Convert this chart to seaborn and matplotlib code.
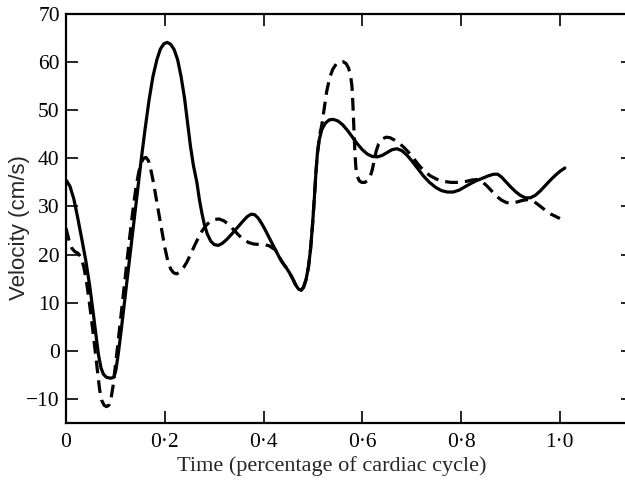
import numpy as np
import pandas as pd
import matplotlib
matplotlib.use("Agg")
import matplotlib.pyplot as plt
import seaborn as sns

# Solid curve (time as fraction of cardiac cycle, velocity cm/s)
solid_t = [0.000, 0.008, 0.016, 0.024, 0.032, 0.040, 0.048, 0.055, 0.061, 0.066,
           0.071, 0.076, 0.082, 0.090, 0.097, 0.101, 0.106, 0.112, 0.120, 0.128,
           0.136, 0.144, 0.152, 0.160, 0.168, 0.176, 0.184, 0.191, 0.198, 0.205,
           0.212, 0.219, 0.226, 0.233, 0.240, 0.246, 0.252, 0.258, 0.265, 0.270,
           0.275, 0.280, 0.286, 0.293, 0.300, 0.308, 0.316, 0.325, 0.335, 0.346,
           0.357, 0.367, 0.375, 0.382, 0.389, 0.396, 0.403, 0.410, 0.417, 0.424,
           0.431, 0.438, 0.445, 0.452, 0.459, 0.465, 0.471, 0.476, 0.481, 0.486,
           0.491, 0.495, 0.499, 0.503, 0.506, 0.509, 0.513, 0.518, 0.525, 0.533,
           0.541, 0.550, 0.560, 0.570, 0.580, 0.590, 0.600, 0.610, 0.620, 0.630,
           0.640, 0.650, 0.660, 0.670, 0.680, 0.690, 0.700, 0.712, 0.724, 0.736,
           0.748, 0.760, 0.772, 0.784, 0.796, 0.808, 0.820, 0.832, 0.844, 0.856,
           0.866, 0.874, 0.882, 0.890, 0.900, 0.910, 0.920, 0.930, 0.940, 0.950,
           0.960, 0.970, 0.980, 0.990, 1.000, 1.010]
solid_v = [35.5, 34.2, 31.5, 27.5, 23.2, 18.8, 13.5, 8.0, 3.0, -1.0,
           -3.6, -4.9, -5.5, -5.7, -5.5, -4.0, -0.5, 4.5, 11.5, 18.5,
           25.5, 32.5, 39.5, 46.0, 52.0, 57.0, 60.5, 62.7, 63.8, 64.1,
           63.7, 62.6, 60.5, 57.0, 52.5, 47.5, 42.5, 38.5, 35.0, 31.5,
           28.7, 26.3, 24.3, 22.8, 22.1, 21.9, 22.3, 23.1, 24.2, 25.5,
           26.8, 27.9, 28.4, 28.3, 27.6, 26.5, 25.2, 23.8, 22.4, 21.0,
           19.6, 18.4, 17.4, 16.3, 15.0, 13.7, 12.8, 12.6, 13.2, 14.8,
           17.5, 21.0, 26.0, 32.0, 37.0, 41.0, 44.0, 46.0, 47.3, 48.0,
           48.1, 47.8, 47.0, 45.8, 44.4, 43.0, 41.8, 40.9, 40.4, 40.3,
           40.6, 41.2, 41.8, 42.0, 41.6, 40.7, 39.5, 37.9, 36.3, 35.0,
           34.0, 33.3, 33.0, 33.0, 33.4, 34.1, 34.8, 35.4, 35.9, 36.4,
           36.7, 36.7, 36.1, 35.2, 34.1, 33.1, 32.3, 31.8, 31.8, 32.3,
           33.2, 34.3, 35.4, 36.4, 37.3, 38.0]

# Dashed curve
dashed_t = [0.000, 0.006, 0.012, 0.018, 0.024, 0.030, 0.036, 0.042, 0.048, 0.054,
            0.059, 0.064, 0.068, 0.072, 0.077, 0.082, 0.087, 0.091, 0.095, 0.099,
            0.104, 0.110, 0.118, 0.126, 0.134, 0.141, 0.147, 0.152, 0.157, 0.162,
            0.167, 0.172, 0.177, 0.182, 0.188, 0.194, 0.200, 0.206, 0.212, 0.218,
            0.224, 0.231, 0.238, 0.245, 0.252, 0.260, 0.268, 0.276, 0.284, 0.292,
            0.300, 0.310, 0.320, 0.330, 0.340, 0.350, 0.360, 0.370, 0.380, 0.392,
            0.404, 0.412, 0.419, 0.424, 0.431, 0.438, 0.445, 0.452, 0.459, 0.465,
            0.471, 0.476, 0.481, 0.486, 0.491, 0.495, 0.499, 0.503, 0.506, 0.509,
            0.513, 0.518, 0.523, 0.528, 0.534, 0.540, 0.547, 0.554, 0.561, 0.567,
            0.572, 0.576, 0.579, 0.581, 0.583, 0.585, 0.587, 0.590, 0.594, 0.599,
            0.605, 0.611, 0.616, 0.620, 0.624, 0.628, 0.633, 0.640, 0.648, 0.656,
            0.665, 0.675, 0.685, 0.695, 0.705, 0.715, 0.725, 0.737, 0.750, 0.765,
            0.780, 0.795, 0.810, 0.822, 0.832, 0.842, 0.852, 0.862, 0.872, 0.882,
            0.892, 0.902, 0.912, 0.922, 0.932, 0.942, 0.952, 0.962, 0.972, 0.982,
            0.992, 1.000]
dashed_v = [25.5, 23.0, 21.3, 20.6, 20.3, 19.5, 17.5, 14.0, 9.5, 4.5,
            0.0, -4.5, -8.0, -10.2, -11.3, -11.6, -11.3, -10.0, -7.5, -4.0,
            0.5, 6.0, 13.5, 21.0, 28.0, 33.5, 37.0, 39.0, 40.0, 40.2,
            39.5, 37.5, 35.0, 32.0, 28.5, 25.0, 21.5, 18.7, 17.0, 16.2,
            16.0, 16.4, 17.3, 18.5, 20.0, 21.8, 23.5, 25.0, 26.1, 26.9,
            27.3, 27.4, 27.0, 26.2, 25.1, 24.0, 23.1, 22.5, 22.2, 22.1,
            22.0, 21.8, 21.3, 21.0, 19.6, 18.4, 17.4, 16.3, 15.0, 13.7,
            12.8, 12.6, 13.2, 14.8, 17.5, 21.0, 26.0, 32.0, 37.0, 41.0,
            44.5, 47.0, 50.5, 54.0, 56.8, 58.5, 59.6, 60.1, 60.1, 59.7,
            58.8, 57.3, 55.0, 51.0, 46.0, 41.0, 38.0, 36.2, 35.3, 35.0,
            35.0, 35.4, 36.2, 37.6, 39.6, 41.5, 43.0, 44.0, 44.4, 44.3,
            43.8, 43.1, 42.2, 41.1, 39.8, 38.5, 37.4, 36.4, 35.7, 35.2,
            35.0, 35.0, 35.2, 35.5, 35.6, 35.2, 34.3, 33.2, 32.1, 31.3,
            30.8, 30.7, 30.9, 31.2, 31.4, 31.3, 30.7, 29.9, 29.1, 28.4,
            27.9, 27.5]

x_ticks = [0.0, 0.2, 0.4, 0.6, 0.8, 1.0]
x_tick_labels = ["0", "0·2", "0·4", "0·6", "0·8", "1·0"]
y_ticks = [-10, 0, 10, 20, 30, 40, 50, 60, 70]
y_tick_labels = ["−10", "0", "10", "20", "30", "40", "50", "60", "70"]

df = pd.concat([
    pd.DataFrame({"t": solid_t, "v": solid_v, "series": "solid"}),
    pd.DataFrame({"t": dashed_t, "v": dashed_v, "series": "dashed"}),
], ignore_index=True)

sns.set_theme(style="ticks")
plt.rcParams["font.family"] = ["Liberation Serif", "DejaVu Serif"]

fig = plt.figure(figsize=(6.25, 4.82), dpi=100)
W = 633 - 66
H = 423 - 14
ax = fig.add_axes([66 / 625, 1 - 423 / 482, W / 625, H / 482])

sns.lineplot(data=df, x="t", y="v", hue="series", style="series",
             palette={"solid": "black", "dashed": "black"},
             dashes={"solid": "", "dashed": (4, 2.2)},
             estimator=None, sort=False, linewidth=2.3, legend=False, ax=ax)

ax.set_xlim(0, 1.148)
ax.set_ylim(-15, 70)
ax.set_xticks(x_ticks)
ax.set_xticklabels(x_tick_labels)
ax.set_yticks(y_ticks)
ax.set_yticklabels(y_tick_labels)
ax.tick_params(direction="in", length=8.5, width=1.2, top=True, right=True,
               labelsize=15.5, colors="black")
ax.tick_params(axis="x", pad=7)
ax.tick_params(axis="y", pad=4.5)
for s in ax.spines.values():
    s.set_linewidth(1.6)
    s.set_color("black")
ax.set_xlabel("Time (percentage of cardiac cycle)", fontsize=16)
ax.xaxis.set_label_coords((332 - 66) / W, (423 - 456) / H)
ax.set_ylabel("Velocity (cm/s)", fontsize=16, family=["Liberation Sans", "DejaVu Sans"])
ax.yaxis.set_label_coords((30 - 66) / W, (423 - 228) / H)

fig.savefig("out.png", dpi=100)
